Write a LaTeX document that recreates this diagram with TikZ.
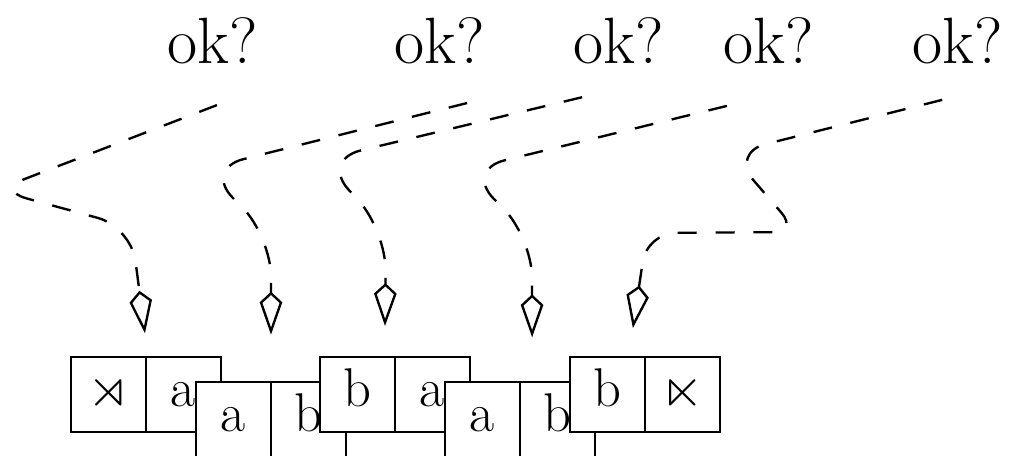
\documentclass[tikz,border=0pt]{standalone}
\usepackage{amssymb}
\usetikzlibrary{arrows.meta,positioning}

\begin{document}
\begin{tikzpicture}[
    x=0.38pt,y=-0.38pt,
    cell/.style={draw,fill=white,line width=0.9pt,minimum size=28.5pt,inner sep=0pt,outer sep=0pt,font=\huge,text height=12.5pt,text depth=3.1pt},
    query/.style={font=\Huge,anchor=base,inner sep=0pt},
    link/.style={line width=0.9pt,dash pattern=on 7.2pt off 7.2pt,-{Kite[open,length=16.3pt,width=8.6pt,inset=4pt]}},
    node distance=0pt
]
\useasboundingbox (0,0) rectangle (1014,455);
% questions
\node[query] (ok1) at (213,63) {ok?};
\node[query] (ok2) at (440,63) {ok?};
\node[query] (ok3) at (619,63) {ok?};
\node[query] (ok4) at (769,63) {ok?};
\node[query] (ok5) at (958,63) {ok?};
% pieces, left to right
\node[cell] (b1l) at (108.5,394.5) {$\rtimes$};
\node[cell,right=of b1l] (b1r) {a};
\node[cell] (b2l) at (233.5,419.5) {a};
\node[cell,right=of b2l] (b2r) {b};
\node[cell] (b3l) at (357.5,394.5) {b};
\node[cell,right=of b3l] (b3r) {a};
\node[cell] (b4l) at (482.5,419.5) {a};
\node[cell,right=of b4l] (b4r) {b};
\node[cell] (b5l) at (607.5,394.5) {b};
\node[cell,right=of b5l] (b5r) {$\ltimes$};
% links
\draw[link] ([xshift=1.5pt,yshift=-16pt]ok1.base) [rounded corners=12pt] -- (-4,190) [rounded corners=13pt] -- (131,227) -- ([xshift=-0.4pt,yshift=9pt]b1l.north east);
\draw[link] ([xshift=10.3pt,yshift=-15.2pt]ok2.base) [rounded corners=15.5pt] -- (204,169) -- (271,236) -- ([yshift=18pt]b2l.north east);
\draw[link] ([xshift=-14pt,yshift=-13pt]ok3.base) [rounded corners=15.5pt] -- (321,160) -- (386,230) -- ([xshift=-3.8pt,yshift=11.8pt]b3l.north east);
\draw[link] ([xshift=-16pt,yshift=-16.3pt]ok4.base) [rounded corners=15.5pt] -- (465,170) -- (532,237) -- ([xshift=4.6pt,yshift=17pt]b4l.north east);
\draw[link] ([xshift=-6pt,yshift=-14pt]ok5.base) [rounded corners=14pt] -- (730,153) [rounded corners=9.5pt] -- (798,232) [rounded corners=11pt] -- (647,233) -- ([xshift=-4.6pt,yshift=11pt]b5l.north east);
\end{tikzpicture}
\end{document}
